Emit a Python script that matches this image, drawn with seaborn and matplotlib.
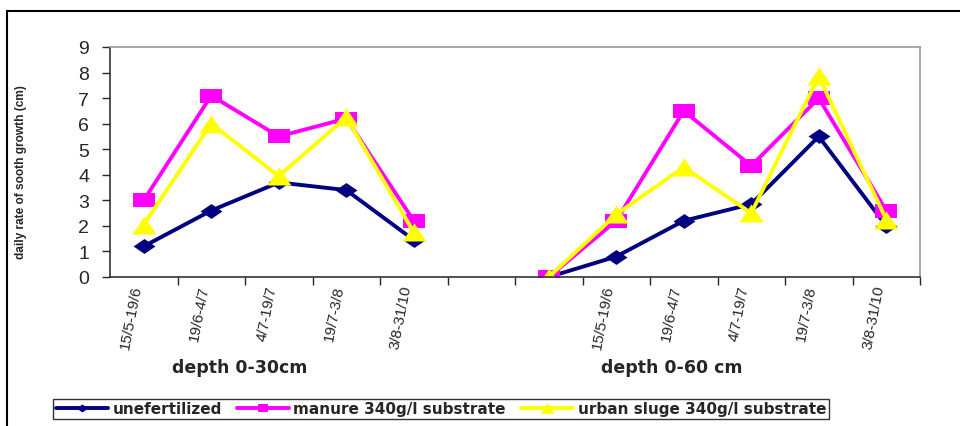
import numpy as np
import pandas as pd
import seaborn as sns
import matplotlib.pyplot as plt
from matplotlib.patches import Rectangle
from matplotlib.path import Path

# categories along the x axis (two depth panels, with a spacer and a start point between)
periods = ['15/5-19/6', '19/6-4/7', '4/7-19/7', '19/7-3/8', '3/8-31/10']
tick_labels = periods + ['', ''] + periods

series = ['unefertilized', 'manure 340g/l substrate', 'urban sluge 340g/l substrate']
colors = ['#000080', '#FF00FF', '#FFFF00']

# depth 0-30cm (categories 0..4)
unfert_30 = [1.2, 2.6, 3.7, 3.4, 1.45]
manure_30 = [3.0, 7.1, 5.5, 6.2, 2.2]
sludge_30 = [2.05, 6.0, 3.95, 6.25, 1.75]

# depth 0-60 cm (categories 6..11, starting from 0)
unfert_60 = [0.0, 0.8, 2.2, 2.85, 5.5, 2.0]
manure_60 = [0.0, 2.2, 6.5, 4.35, 7.0, 2.6]
sludge_60 = [0.0, 2.45, 4.3, 2.5, 7.85, 2.25]

# the original picture is stretched sideways, so the markers are wide
diamond = Path([(-1.47, 0), (0, -1), (1.47, 0), (0, 1), (-1.47, 0)], closed=True)
square = Path([(-1.47, -1), (1.47, -1), (1.47, 1), (-1.47, 1), (-1.47, -1)], closed=True)
triangle = Path([(0, 1), (-1.33, -1), (1.33, -1), (0, 1)], closed=True)
markers = [diamond, square, triangle]
marker_sizes = [15.8, 15.8, 17.3]
legend_sizes = [8.5, 7.5, 10]


def panel_frame(values, start):
    rows = []
    for name, vals in zip(series, values):
        for i, v in enumerate(vals):
            rows.append({'pos': start + i, 'value': v, 'series': name})
    return pd.DataFrame(rows)


df30 = panel_frame([unfert_30, manure_30, sludge_30], 0)
df60 = panel_frame([unfert_60, manure_60, sludge_60], 6)

sns.set_style('white')
plt.rcParams['font.family'] = ['Liberation Sans', 'DejaVu Sans']

fig = plt.figure(figsize=(9.6, 4.27), dpi=100)
ax = fig.add_axes([110 / 960, 1 - 278 / 427, 810 / 960, 230 / 427])

for d in (df30, df60):
    for name, c, m, ms in zip(series, colors, markers, marker_sizes):
        sns.lineplot(data=d[d['series'] == name], x='pos', y='value', color=c,
                     marker=m, markersize=ms, markeredgewidth=0, linewidth=2.8,
                     legend=False, ax=ax)

ax.set_xlim(-0.5, len(tick_labels) - 0.5)
ax.set_ylim(0, 9)
ax.set_yticks(range(0, 10))
ax.tick_params(axis='y', labelsize=14, length=6, width=1, pad=9, direction='out', left=True)

# boundaries get tick marks, centres get the labels
ax.set_xticks(np.arange(0.5, len(tick_labels), 1.0))
ax.set_xticklabels([])
ax.set_xticks(np.arange(len(tick_labels)), minor=True)
ax.set_xticklabels(tick_labels, minor=True, rotation=79, fontsize=11,
                   ha='right', va='bottom', rotation_mode='anchor')
ax.tick_params(axis='x', which='major', length=6, width=1, direction='out', bottom=True)
ax.tick_params(axis='x', which='minor', length=0, pad=7)
ax.set_xlabel('')
ax.set_ylabel('')

for s in ['left', 'bottom']:
    ax.spines[s].set_color('#333333')
    ax.spines[s].set_linewidth(1.2)
for s in ['top', 'right']:
    ax.spines[s].set_color('#999999')
    ax.spines[s].set_linewidth(1.2)

wide = ['DejaVu Sans']
fig.text(240 / 960, 1 - 368 / 427, 'depth 0-30cm', ha='center', va='center',
         fontsize=12.5, fontweight='bold', family=wide)
fig.text(672 / 960, 1 - 368 / 427, 'depth 0-60 cm', ha='center', va='center',
         fontsize=12.5, fontweight='bold', family=wide)
fig.text(21 / 960, 1 - 172 / 427, 'daily rate of sooth growth (cm)', rotation=90,
         ha='center', va='center', fontsize=8.6, fontweight='bold')

handles = [plt.Line2D([], [], color=c, marker=m, lw=2.8, ms=ms, mew=0)
           for c, m, ms in zip(colors, markers, legend_sizes)]
leg = fig.legend(handles, series, loc='center', ncol=3,
                 bbox_to_anchor=(441 / 960, 1 - 410 / 427),
                 prop={'size': 11, 'weight': 'bold', 'family': 'DejaVu Sans'},
                 frameon=True, fancybox=False,
                 handlelength=3.4, handletextpad=0.3, columnspacing=1.0,
                 borderpad=0.15, borderaxespad=0)
leg.get_frame().set_edgecolor('black')
leg.get_frame().set_linewidth(1.0)

fig.patches.append(Rectangle((7 / 960, -0.1), 1.2, 1 - 12 / 427 + 0.1,
                             transform=fig.transFigure, fill=False,
                             edgecolor='black', linewidth=1.5))

fig.savefig('out.png', dpi=100)
